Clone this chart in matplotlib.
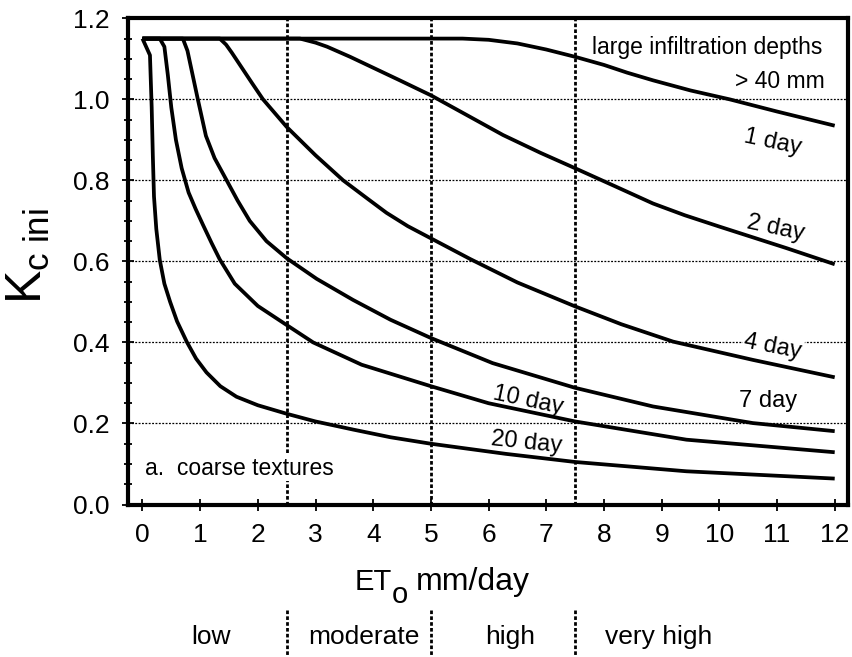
import numpy as np
import matplotlib.pyplot as plt
from matplotlib.ticker import MultipleLocator, FormatStrFormatter

plt.rcParams['font.family'] = ['Liberation Sans', 'DejaVu Sans']
plt.rcParams['mathtext.fontset'] = 'custom'
plt.rcParams['mathtext.rm'] = 'Liberation Sans'
plt.rcParams['mathtext.it'] = 'Liberation Sans'

x_1d = [0, 5.0, 5.55, 6.0, 6.5, 7.0, 7.5, 8.0, 8.4, 8.85, 9.5, 10.18, 11.0, 12.0]
y_1d = [1.15, 1.15, 1.15, 1.147, 1.138, 1.123, 1.105, 1.085, 1.066, 1.047, 1.022, 1.0, 0.97, 0.935]

x_2d = [0, 2.73, 3.0, 3.2, 3.6, 4.0, 4.46, 5.0, 5.6, 6.25, 6.9, 7.5, 8.2, 8.85, 9.4, 10.0,
        11.16, 12.0]
y_2d = [1.15, 1.15, 1.14, 1.13, 1.105, 1.078, 1.047, 1.01, 0.963, 0.912, 0.868, 0.83, 0.785, 0.743,
        0.714, 0.686, 0.633, 0.593]

x_4d = [0, 1.34, 1.45, 1.55, 1.69, 1.9, 2.09, 2.5, 3.0, 3.48, 3.9, 4.23, 4.6, 5.0,
        5.68, 6.5, 7.5, 8.3, 9.2, 10.58, 12.0]
y_4d = [1.15, 1.15, 1.135, 1.115, 1.085, 1.04, 1.0, 0.932, 0.862, 0.80, 0.755, 0.72, 0.687, 0.657,
        0.606, 0.548, 0.489, 0.445, 0.402, 0.357, 0.314]

x_7d = [0, 0.70, 0.78, 0.87, 0.96, 1.1, 1.25, 1.46, 1.65, 1.86, 2.15, 2.5, 3.02, 3.65, 4.3,
        5.0, 6.07, 7.5, 8.85, 10.58, 12.0]
y_7d = [1.15, 1.15, 1.12, 1.06, 1.0, 0.91, 0.855, 0.80, 0.75, 0.70, 0.65, 0.608, 0.557, 0.505, 0.456,
        0.411, 0.349, 0.288, 0.242, 0.201, 0.181]

x_10d = [0, 0.30, 0.38, 0.44, 0.50, 0.58, 0.68, 0.80, 0.92, 1.05, 1.2, 1.34, 1.6, 2.0, 2.5,
         2.96, 3.8, 5.0, 6.0, 7.5, 9.43, 12.0]
y_10d = [1.15, 1.15, 1.13, 1.06, 0.98, 0.90, 0.83, 0.77, 0.73, 0.69, 0.645, 0.605, 0.545, 0.49, 0.443,
         0.40, 0.345, 0.292, 0.25, 0.205, 0.16, 0.129]

x_20d = [0, 0.13, 0.16, 0.18, 0.20, 0.24, 0.30, 0.38, 0.48, 0.6, 0.77, 0.93, 1.11, 1.35, 1.63,
         2.0, 2.5, 3.0, 3.65, 4.3, 5.0, 6.3, 7.5, 9.43, 12.0]
y_20d = [1.15, 1.109, 0.98, 0.86, 0.76, 0.68, 0.604, 0.545, 0.50, 0.452, 0.401, 0.36, 0.326, 0.292, 0.266,
         0.245, 0.224, 0.205, 0.185, 0.166, 0.15, 0.125, 0.105, 0.082, 0.064]

curves = [(x_1d, y_1d), (x_2d, y_2d), (x_4d, y_4d), (x_7d, y_7d), (x_10d, y_10d), (x_20d, y_20d)]

# curve labels: text, x, y, rotation
labels = [('1 day', 10.93, 0.894, -12), ('2 day', 10.97, 0.681, -12),
          ('4 day', 10.93, 0.389, -11), ('7 day', 10.85, 0.256, 0),
          ('10 day', 6.69, 0.257, -12), ('20 day', 6.66, 0.152, -6)]

class_bounds = [2.5, 5.0, 7.5]
class_names = ['low', 'moderate', 'high', 'very high']
class_pos = [1.19, 3.84, 6.37, 8.95]
y_grid = [0.2, 0.4, 0.6, 0.8, 1.0]

fig = plt.figure(figsize=(8.53, 6.57), dpi=100)
ax = fig.add_axes([0.1501, 0.2321, 0.8440, 0.7400])
ax.set_xlim(-0.25, 12.23)
ax.set_ylim(0, 1.2)

for yv in y_grid:
    ax.axhline(yv, color='black', lw=0.9, ls=(0, (1.5, 1.2)), zorder=1)
for xv in class_bounds:
    ax.axvline(xv, color='black', lw=2.0, ls=(0, (1.3, 0.8)), zorder=1)

for xs, ys in curves:
    ax.plot(xs, ys, color='black', lw=2.7, solid_joinstyle='round',
            solid_capstyle='butt', zorder=3)

box = dict(facecolor='white', edgecolor='none', pad=1)
for txt, lx, ly, rot in labels:
    ax.text(lx, ly, txt, fontsize=17, rotation=rot, ha='center', va='center',
            rotation_mode='anchor', bbox=box, zorder=2)

ax.text(11.79, 1.128, 'large infiltration depths', fontsize=16.5, ha='right', va='center', zorder=2)
ax.text(11.83, 1.044, '> 40 mm', fontsize=16.5, ha='right', va='center', zorder=2)
ax.text(0.045, 0.09, 'a.  coarse textures', fontsize=16.5, ha='left', va='center',
        bbox=box, zorder=2)

ax.set_xticks(range(13))
ax.set_yticks(np.arange(0, 1.21, 0.2))
ax.yaxis.set_major_formatter(FormatStrFormatter('%.1f'))
ax.yaxis.set_minor_locator(MultipleLocator(0.05))
ax.tick_params(which='major', direction='inout', length=8, width=1.3,
               labelsize=19, pad=9)
ax.tick_params(which='minor', direction='inout', length=6, width=1.3)
for s in ax.spines.values():
    s.set_linewidth(3)

# axis titles
ax.text(-0.139, 0.51, r'K$_{\rm c\ ini}$', transform=ax.transAxes, rotation=90,
        fontsize=36, ha='center', va='center')
tr = ax.get_xaxis_transform()
ax.text(4.32, -0.159, 'ET', transform=tr, fontsize=21, ha='right', va='center')
ax.text(4.33, -0.187, 'o', transform=tr, fontsize=21, ha='left', va='center')
ax.text(4.74, -0.159, 'mm/day', transform=tr, fontsize=23, ha='left', va='center')

# ETo classes below the axis
for xv in class_bounds:
    ax.plot([xv, xv], [-0.217, -0.32], transform=tr, color='black', lw=2.0,
            ls=(0, (1.3, 0.8)), clip_on=False)
for name, cx in zip(class_names, class_pos):
    ax.text(cx, -0.272, name, transform=tr, fontsize=19, ha='center', va='center')

fig.savefig('out.png', dpi=100)
